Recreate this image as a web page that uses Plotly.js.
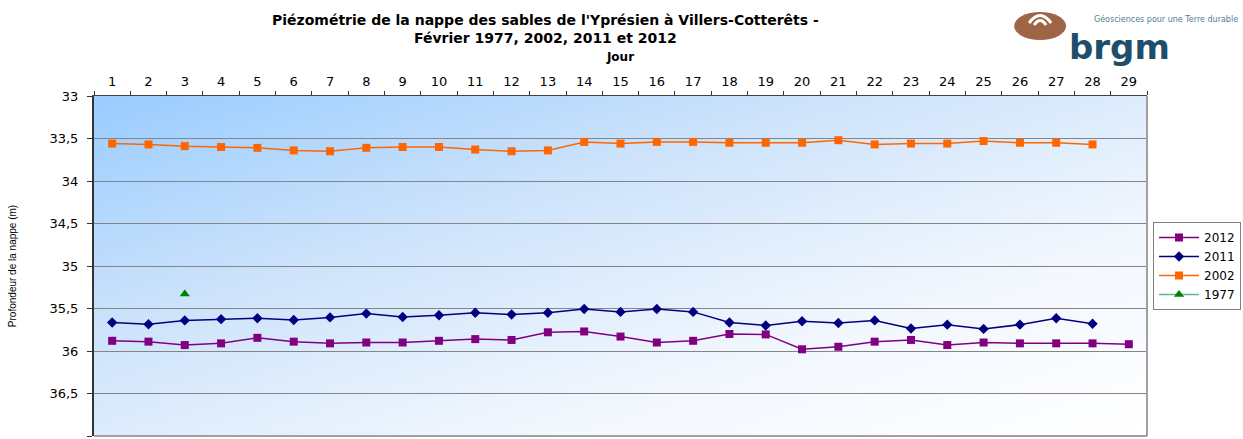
<!DOCTYPE html>
<html><head><meta charset="utf-8">
<script src="https://cdn.plot.ly/plotly-3.0.1.min.js"></script>
<style>html,body{margin:0;padding:0;background:#fff;}#chart{width:1243px;height:439px;}</style>
</head><body><div id="chart"></div>
<script>
// ---- data ----
const days = ['1','2','3','4','5','6','7','8','9','10','11','12','13','14','15','16','17','18','19','20','21','22','23','24','25','26','27','28','29'];
const depth2012 = [35.88,35.89,35.93,35.91,35.845,35.89,35.91,35.90,35.90,35.88,35.86,35.87,35.78,35.77,35.83,35.90,35.88,35.80,35.805,35.98,35.95,35.89,35.87,35.93,35.90,35.91,35.91,35.91,35.92];
const depth2011 = [35.665,35.685,35.64,35.625,35.615,35.635,35.605,35.56,35.60,35.58,35.55,35.57,35.55,35.505,35.54,35.505,35.54,35.665,35.70,35.65,35.67,35.64,35.735,35.69,35.74,35.69,35.615,35.68];
const depth2002 = [33.56,33.57,33.59,33.60,33.61,33.64,33.65,33.61,33.60,33.60,33.63,33.65,33.64,33.54,33.56,33.54,33.54,33.55,33.55,33.55,33.52,33.57,33.56,33.56,33.53,33.55,33.55,33.57];
const days1977 = ['3'];
const depth1977 = [35.33];
const yTickVals = [33,33.5,34,34.5,35,35.5,36,36.5,37];
const yTickText = ['33','33,5','34','34,5','35','35,5','36','36,5','37'];
const titleLine1 = "Piézométrie de la nappe des sables de l'Yprésien à Villers-Cotterêts -";
const titleLine2 = "Février 1977, 2002, 2011 et 2012";

// ---- geometry helpers (pixel -> paper) ----
const W = 1243, H = 439, ML = 94, MR = 95, MT = 96, MB = 3;
const PW = W - ML - MR, PH = H - MT - MB;
const px = v => (v - ML) / PW;
const py = v => (H - MB - v) / PH;

const FONT = 'Liberation Sans, Arial, sans-serif';
const WIDE = 'DejaVu Sans, Liberation Sans, Arial, sans-serif';

const traces = [
  {name:'2012', x: days.slice(0, depth2012.length), y: depth2012, type:'scatter', mode:'lines+markers',
   line:{color:'#800080', width:1.5}, marker:{symbol:'square', size:8, color:'#800080'}},
  {name:'2011', x: days.slice(0, depth2011.length), y: depth2011, type:'scatter', mode:'lines+markers',
   line:{color:'#000080', width:1.5}, marker:{symbol:'diamond', size:8, color:'#000080'}},
  {name:'2002', x: days.slice(0, depth2002.length), y: depth2002, type:'scatter', mode:'lines+markers',
   line:{color:'#FF6600', width:1.5}, marker:{symbol:'square', size:8, color:'#FF6600'}},
  {name:'1977', x: days1977, y: depth1977, type:'scatter', mode:'lines+markers',
   line:{color:'#5FB98A', width:1.5}, marker:{symbol:'triangle-up', size:9, color:'#008000'}}
];

const gradSvg = "<svg xmlns='http://www.w3.org/2000/svg' width='100' height='100' preserveAspectRatio='none'>" +
  "<defs><linearGradient id='g' x1='0' y1='0' x2='1' y2='1'>" +
  "<stop offset='0' stop-color='#99CCFF'/><stop offset='0.35' stop-color='#CDE3FB'/>" +
  "<stop offset='0.7' stop-color='#F2F7FE'/><stop offset='1' stop-color='#FFFFFF'/>" +
  "</linearGradient></defs><rect width='100' height='100' fill='url(#g)'/></svg>";
const gradUri = 'data:image/svg+xml;charset=utf-8,' + encodeURIComponent(gradSvg);

const layout = {
  width: W, height: H,
  margin: {l: ML, r: MR, t: MT, b: MB, pad: 0},
  paper_bgcolor: '#FFFFFF',
  plot_bgcolor: 'rgba(0,0,0,0)',
  font: {family: WIDE, color: '#000', size: 12},
  showlegend: true,
  legend: {x: px(1153), y: py(222), xanchor: 'left', yanchor: 'top',
           bgcolor: '#FFFFFF', bordercolor: '#808080', borderwidth: 1,
           font: {family: WIDE, size: 12, color: '#000'}, traceorder: 'normal', itemwidth: 40},
  xaxis: {type: 'category', categoryarray: days, categoryorder: 'array', side: 'top',
          range: [-0.5, 28.5], tickson: 'boundaries', ticks: 'outside', ticklen: 4, tickcolor: '#333',
          showgrid: false, showline: true, linecolor: '#444', linewidth: 1.5, zeroline: false,
          ticklabelstandoff: 3,
          tickfont: {family: WIDE, size: 13, color: '#000'},
          title: {text: '<b>Jour</b>', font: {family: WIDE, size: 12, color: '#000'}, standoff: 10}},
  yaxis: {range: [37, 33], tickvals: yTickVals, ticktext: yTickText, ticks: 'outside', ticklen: 5,
          tickcolor: '#333', showgrid: true, gridcolor: '#858585', gridwidth: 1, zeroline: false,
          showline: true, linecolor: '#333', linewidth: 2, ticklabelstandoff: 6,
          tickfont: {family: WIDE, size: 13, color: '#000'},
          title: {text: 'Profondeur de la nappe (m)', standoff: 31,
                  font: {family: FONT, size: 10, color: '#000'}}},
  images: [{source: gradUri, xref: 'paper', yref: 'paper', x: 0, y: 1, sizex: 1, sizey: 1,
            xanchor: 'left', yanchor: 'top', sizing: 'stretch', layer: 'below'}],
  shapes: [
    {type: 'line', xref: 'paper', yref: 'paper', x0: 1, x1: 1, y0: 0, y1: 1, line: {color: '#A0A0A0', width: 2}},
    {type: 'line', xref: 'paper', yref: 'paper', x0: 0, x1: 1, y0: 0, y1: 0, line: {color: '#A0A0A0', width: 2}},
    // logo disc
    {type: 'circle', xref: 'paper', yref: 'paper', x0: px(1015), x1: px(1067), y0: py(40), y1: py(12),
     fillcolor: '#9E6446', line: {width: 0}},
    {type: 'path', xref: 'paper', yref: 'paper',
     path: `M ${px(1030)} ${py(23)} Q ${px(1041)} ${py(8)} ${px(1052)} ${py(23)}`,
     line: {color: '#FFFFFF', width: 3}},
    {type: 'path', xref: 'paper', yref: 'paper',
     path: `M ${px(1035)} ${py(25)} Q ${px(1041)} ${py(16)} ${px(1047)} ${py(25)}`,
     line: {color: '#FFFFFF', width: 3}}
  ],
  annotations: [
    {text: '<b>' + titleLine1 + '<br>' + titleLine2 + '</b>',
     xref: 'paper', yref: 'paper', x: px(546), y: py(29), xanchor: 'center', yanchor: 'middle', align: 'center',
     showarrow: false, font: {family: WIDE, size: 14, color: '#000'}},
    {text: '<b>brgm</b>', xref: 'paper', yref: 'paper', x: px(1068), y: py(25), xanchor: 'left', yanchor: 'top',
     showarrow: false, font: {family: WIDE, size: 34, color: '#1D4E6C'}},
    {text: 'Géosciences pour une Terre durable', xref: 'paper', yref: 'paper', x: px(1093), y: py(26),
     xanchor: 'left', yanchor: 'bottom', showarrow: false, font: {family: WIDE, size: 8, color: '#4E7F92'}}
  ]
};

Plotly.newPlot('chart', traces, layout, {displayModeBar: false, staticPlot: true});
</script></body></html>
